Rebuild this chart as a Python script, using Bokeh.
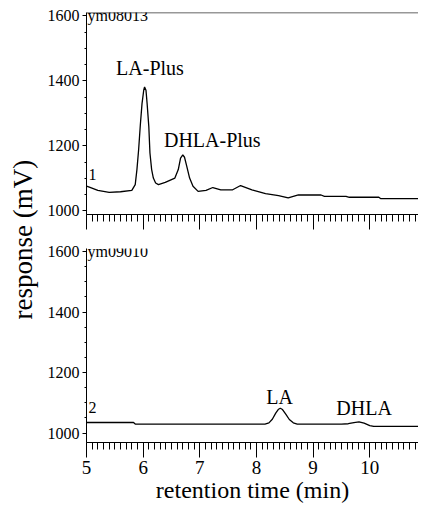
import math
from bokeh.plotting import figure
from bokeh.models import Range1d, SingleIntervalTicker, LinearAxis, Label, Span
from bokeh.layouts import row, column
from bokeh.embed import file_html
from bokeh.resources import INLINE

# ---- data (retention time in min, response in mV) ----
TIME_TOP = [5.00, 5.05, 5.20, 5.40, 5.60, 5.80, 5.86, 5.89, 5.92, 5.95, 5.98, 6.01,
            6.025, 6.05, 6.07, 6.10, 6.12, 6.15, 6.18, 6.22, 6.27, 6.39, 6.56, 6.62,
            6.66, 6.70, 6.73, 6.77, 6.82, 6.88, 6.97, 7.11, 7.23, 7.37, 7.58, 7.72,
            7.92, 8.16, 8.39, 8.56, 8.74, 9.14, 9.20, 9.58, 9.64, 10.16, 10.19, 10.86]
RESP_TOP = [1076, 1073, 1063, 1057, 1059, 1063, 1081, 1127, 1188, 1264, 1330, 1371,
            1381, 1371, 1330, 1259, 1178, 1127, 1101, 1086, 1081, 1088, 1101, 1127,
            1162, 1172, 1165, 1137, 1101, 1076, 1060, 1063, 1072, 1065, 1065, 1078,
            1065, 1053, 1047, 1040, 1049, 1049, 1045, 1045, 1042, 1042, 1038, 1038]

TIME_BOTTOM = [5.00, 5.83, 5.86, 8.15, 8.22, 8.28, 8.34, 8.39, 8.42, 8.46, 8.52,
               8.58, 8.65, 8.72, 9.50, 9.62, 9.72, 9.81, 9.90, 10.00, 10.07, 10.86]
RESP_BOTTOM = [1035, 1035, 1030, 1030, 1034, 1046, 1066, 1079, 1082, 1078, 1062,
               1045, 1034, 1030, 1030, 1031, 1035, 1037, 1033, 1025, 1022, 1022]

RUN_IDS = ["ym08013", "ym09010"]
TRACE_NUMBERS = ["1", "2"]
TRACE_NUMBER_Y = [1111, 1083]

PEAKS_TOP = ["LA-Plus", "DHLA-Plus"]
PEAKS_TOP_X = [6.12, 7.22]
PEAKS_TOP_Y = [1438, 1218]
PEAKS_BOTTOM = ["LA", "DHLA"]
PEAKS_BOTTOM_X = [8.41, 9.90]
PEAKS_BOTTOM_Y = [1119, 1083]

X_RANGE = (5.0, 10.86)
Y_RANGE_TOP = (989, 1610)
Y_RANGE_BOTTOM = (969, 1610)

X_TITLE = "retention time (min)"
Y_TITLE = "response (mV)"

TICK_FONT = "Liberation Sans Narrow"
SERIF = "Liberation Serif"


def make_panel(times, resp, yr, height, show_xlabels, border_top, border_bottom):
    p = figure(width=374, height=height,
               x_range=Range1d(*X_RANGE), y_range=Range1d(*yr),
               x_axis_type=None, y_axis_type=None,
               output_backend="svg", toolbar_location=None,
               min_border_left=38, min_border_right=0,
               min_border_top=border_top, min_border_bottom=border_bottom,
               outline_line_color=None, background_fill_color="white",
               border_fill_color="white")
    xaxis = LinearAxis(ticker=SingleIntervalTicker(interval=1, num_minor_ticks=10),
                       major_tick_out=15, major_tick_in=0,
                       minor_tick_out=7, minor_tick_in=0,
                       axis_line_color="black", major_tick_line_color="black",
                       minor_tick_line_color="black",
                       major_label_text_font=TICK_FONT,
                       major_label_standoff=3)
    if show_xlabels:
        xaxis.major_label_text_font_size = "19px"
        xaxis.major_label_text_color = "black"
        xaxis.axis_label = X_TITLE
        xaxis.axis_label_text_font = SERIF
        xaxis.axis_label_text_font_style = "normal"
        xaxis.axis_label_text_font_size = "24px"
        xaxis.axis_label_text_color = "black"
        xaxis.axis_label_standoff = 0
    else:
        xaxis.major_label_text_font_size = "0px"
        xaxis.major_label_text_color = None
    p.add_layout(xaxis, "below")
    yaxis = LinearAxis(ticker=SingleIntervalTicker(interval=200, num_minor_ticks=4),
                       major_tick_out=4, major_tick_in=0,
                       minor_tick_out=2, minor_tick_in=0,
                       axis_line_color="black", major_tick_line_color="black",
                       minor_tick_line_color="black",
                       major_label_text_font=TICK_FONT,
                       major_label_text_font_size="16px",
                       major_label_text_color="black",
                       major_label_standoff=3)
    p.add_layout(yaxis, "left")
    p.line(times, resp, line_color="black", line_width=1.3)
    return p


top = make_panel(TIME_TOP, RESP_TOP, Y_RANGE_TOP, 238, False, 12, 24)
top.add_layout(Span(location=Y_RANGE_TOP[1], dimension="width",
                    line_color="#333333", line_width=1.5))

bottom = make_panel(TIME_BOTTOM, RESP_BOTTOM, Y_RANGE_BOTTOM, 272, True, 10, 68)

for p, run_id, num, num_y in [(top, RUN_IDS[0], TRACE_NUMBERS[0], TRACE_NUMBER_Y[0]),
                              (bottom, RUN_IDS[1], TRACE_NUMBERS[1], TRACE_NUMBER_Y[1])]:
    p.add_layout(Label(x=X_RANGE[0], y=1600, text=run_id, x_offset=1,
                       text_baseline="middle", text_align="left",
                       text_font=TICK_FONT, text_font_size="16px", text_color="black"))
    p.add_layout(Label(x=X_RANGE[0], y=num_y, text=num, x_offset=2,
                       text_baseline="middle", text_align="left",
                       text_font=TICK_FONT, text_font_size="16px", text_color="black"))

for name, x, y in zip(PEAKS_TOP, PEAKS_TOP_X, PEAKS_TOP_Y):
    top.add_layout(Label(x=x, y=y, text=name, text_align="center", text_baseline="middle",
                         text_font=SERIF, text_font_size="20px", text_color="black"))
for name, x, y in zip(PEAKS_BOTTOM, PEAKS_BOTTOM_X, PEAKS_BOTTOM_Y):
    bottom.add_layout(Label(x=x, y=y, text=name, text_align="center", text_baseline="middle",
                            text_font=SERIF, text_font_size="20px", text_color="black"))

# left strip carrying the shared y-axis title
ytitle = figure(width=44, height=510, x_range=Range1d(0, 1), y_range=Range1d(0, 1),
                x_axis_type=None, y_axis_type=None, output_backend="svg",
                toolbar_location=None, min_border=0, outline_line_color=None)
ytitle.add_layout(Label(x=0.5, y=0.531, text=Y_TITLE, angle=math.pi / 2,
                        text_align="center", text_baseline="middle",
                        text_font=SERIF, text_font_size="27px", text_color="black"))

layout = row(ytitle, column(top, bottom))
open("out.html", "w").write(file_html(layout, INLINE))
